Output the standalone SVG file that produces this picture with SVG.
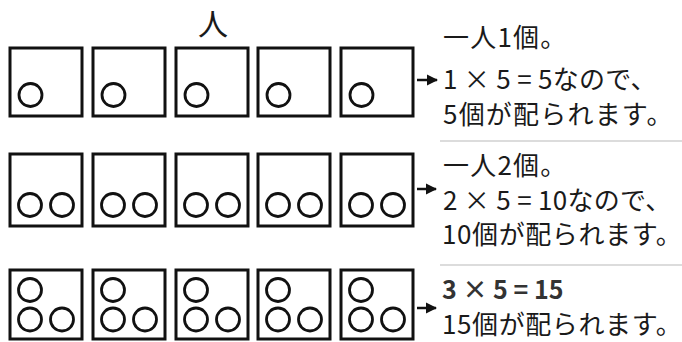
<svg xmlns="http://www.w3.org/2000/svg" width="682" height="342" viewBox="0 0 682 342">
<style>
.box{fill:#fff;stroke:#111;stroke-width:3}
.c{fill:none;stroke:#111;stroke-width:2.8}
.t{font-family:"Noto Sans CJK JP","Noto Sans",sans-serif;font-size:26px;fill:#1a1a1a}
.w{letter-spacing:1.2px}
.n{letter-spacing:0.6px}
.f{letter-spacing:0.3px}
.sep{stroke:#d0d0d0;stroke-width:1.5}
.arr{stroke:#111;stroke-width:2.5}
</style>
<defs>
<marker id="ah" viewBox="0 0 10 10" refX="9" refY="5" markerWidth="4.5" markerHeight="4.5" orient="auto" markerUnits="strokeWidth">
<path d="M0,0 L10,5 L0,10 z" fill="#111"/>
</marker>
<g id="b1"><rect class="box" x="0" y="0" width="72" height="68"/><circle class="c" cx="20.5" cy="47" r="11.5"/></g>
<g id="b2"><rect class="box" x="0" y="0" width="72" height="72"/><circle class="c" cx="20" cy="51" r="11.5"/><circle class="c" cx="52" cy="51" r="11.5"/></g>
<g id="b3"><rect class="box" x="0" y="0" width="72" height="69"/><circle class="c" cx="20" cy="20" r="11.5"/><circle class="c" cx="20" cy="49.5" r="11.5"/><circle class="c" cx="52" cy="49.5" r="11.5"/></g>
</defs>
<rect width="682" height="342" fill="#fff"/>
<text id="label-person" class="t" x="213" y="35" text-anchor="middle" style="font-size:30px">人</text>
<g id="row1">
<use href="#b1" x="10" y="48"/><use href="#b1" x="93" y="48"/><use href="#b1" x="176" y="48"/><use href="#b1" x="258" y="48"/><use href="#b1" x="341" y="48"/>
</g>
<g id="row2">
<use href="#b2" x="10" y="154"/><use href="#b2" x="93" y="154"/><use href="#b2" x="176" y="154"/><use href="#b2" x="258" y="154"/><use href="#b2" x="341" y="154"/>
</g>
<g id="row3">
<use href="#b3" x="10" y="270"/><use href="#b3" x="93" y="270"/><use href="#b3" x="176" y="270"/><use href="#b3" x="258" y="270"/><use href="#b3" x="341" y="270"/>
</g>
<g id="connectors">
<line class="arr" x1="417" y1="80" x2="437" y2="80" marker-end="url(#ah)"/>
<line class="arr" x1="417" y1="189" x2="436" y2="189" marker-end="url(#ah)"/>
<line class="arr" x1="417" y1="308" x2="436" y2="308" marker-end="url(#ah)"/>
</g>
<g id="text1">
<text class="t w" x="443" y="47">一人1個。</text>
<text class="t f" x="443" y="89">1 × 5 = 5なので、</text>
<text class="t w" x="443" y="124">5個が配られます。</text>
</g>
<line class="sep" x1="440" y1="141" x2="682" y2="141"/>
<g id="text2">
<text class="t w" x="443" y="175">一人2個。</text>
<text class="t f" x="443" y="210">2 × 5 = 10なので、</text>
<text class="t n" x="442" y="244">10個が配られます。</text>
</g>
<line class="sep" x1="440" y1="265" x2="682" y2="265"/>
<g id="text3">
<text class="t" x="442" y="299" style="font-size:25px;font-weight:bold;fill:#333">3 × 5 = 15</text>
<text class="t n" x="442" y="334">15個が配られます。</text>
</g>
</svg>
